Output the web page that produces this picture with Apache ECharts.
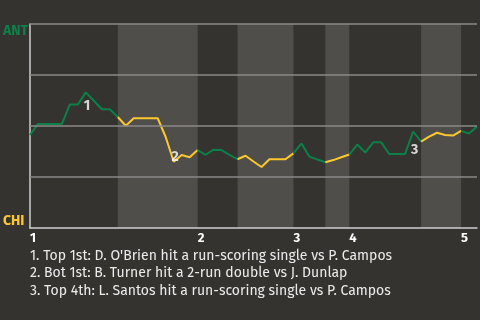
<!DOCTYPE html>
<html><head><meta charset="utf-8">
<script src="https://cdn.jsdelivr.net/npm/echarts@6/dist/echarts.min.js"></script>
<style>html,body{margin:0;padding:0;background:#353330;}#c{width:480px;height:320px;}</style>
</head><body><div id="c"></div>
<script>
// Win probability (ANT side, %) after each plate appearance
const winProb = [45.6,51.0,51.0,51.0,51.0,60.6,60.6,66.5,62.4,58.2,58.2,54.4,50.1,53.8,53.8,53.8,53.8,44.6,32.5,35.8,34.7,38.2,35.9,38.4,38.2,35.9,33.7,35.4,32.6,29.9,33.7,33.7,33.7,36.6,41.4,35.0,33.6,32.2,33.3,34.7,36.0,40.9,37.0,42.0,42.0,36.3,36.3,36.3,47.3,42.3,44.8,46.7,45.6,45.3,47.6,46.3,49.8];
// Half-inning starting plate-appearance index (top 1st, bot 1st, top 2nd, ...)
const halfStarts = [0, 11, 21, 26, 33, 37, 40, 49, 54];
const inningLabels = ['1','2','3','4','5'];
const inningStarts = [0, 21, 33, 40, 54];
const gridValues = [25, 50, 75, 100];
const teamTop = 'ANT', teamBottom = 'CHI';
const annIdx = [7, 18, 48];
const annLabels = ['1','2','3'];
const notes = [
  "1. Top 1st: D. O'Brien hit a run-scoring single vs P. Campos",
  "2. Bot 1st: B. Turner hit a 2-run double vs J. Dunlap",
  "3. Top 4th: L. Santos hit a run-scoring single vs P. Campos"
];

const GREEN = '#0b8048', YELLOW = '#fdc82f', BAND = '#504e4b';
const FONT = 'Fira Sans, Noto Sans, sans-serif';
const lastIdx = winProb.length - 1;
const series = [];
const bands = [];
for (let h = 0; h < halfStarts.length; h++) {
  const s = halfStarts[h], e = h + 1 < halfStarts.length ? halfStarts[h+1] : lastIdx;
  const data = [];
  for (let i = s; i <= e; i++) data.push([i, winProb[i]]);
  const isTop = h % 2 === 0;
  if (!isTop) bands.push([{xAxis: s}, {xAxis: e}]);
  series.push({type:'line', data, showSymbol:false, symbol:'none', silent:true,
    lineStyle:{color: isTop ? GREEN : YELLOW, width:2}, z: 4});
}
series.push({type:'line', data:[], z:1, silent:true,
  markArea:{silent:true, itemStyle:{color:BAND}, data:bands}});
series.push({type:'line', data:[], z:2, silent:true,
  markLine:{silent:true, symbol:['none','none'], label:{show:false},
    lineStyle:{color:'#8a8a88', width:1.5, type:'solid'},
    data: gridValues.map(v=>({yAxis:v}))}});
const annOffsets = [[1,14],[1.5,-5],[1.5,18.5]];
series.push({type:'scatter', symbolSize:0, silent:true, z:5,
  data: annIdx.map((i,k)=>({value:[i, winProb[i]], label:{show:true, formatter:annLabels[k], position:'inside', offset:annOffsets[k], color:'#ffffff', fontWeight:'bold', fontSize:14, fontFamily:FONT}}))});

const chart = echarts.init(document.getElementById('c'));
chart.setOption({
  backgroundColor:'#353330',
  animation:false,
  grid:{left:29, right:3, top:24, bottom:92},
  xAxis:{type:'value', min:0, max:lastIdx, splitLine:{show:false}, z:3,
    axisLine:{show:true, lineStyle:{color:'#cfcfcf', width:1.5}},
    axisTick:{show:false},
    axisLabel:{customValues: inningStarts, formatter:(v)=>inningLabels[inningStarts.indexOf(v)] || '',
      align:'left', color:'#ffffff', fontWeight:'bold', fontSize:13, fontFamily:FONT, margin:4, showMinLabel:true, showMaxLabel:true}},
  yAxis:{type:'value', min:0, max:100, interval:25, z:3,
    axisLine:{show:true, lineStyle:{color:'#cfcfcf', width:1.5}},
    axisTick:{show:false},
    splitLine:{show:false},
    axisLabel:{margin:27, align:'left', fontFamily:FONT, fontWeight:'bold', fontSize:14,
      formatter:(v)=> v===100 ? '{t|'+teamTop+'}' : (v===0 ? '{b|'+teamBottom+'}' : ''),
      rich:{t:{color:GREEN, fontWeight:'bold', fontSize:14, fontFamily:FONT, padding:[14,0,0,0]},
            b:{color:YELLOW, fontWeight:'bold', fontSize:14, fontFamily:FONT, padding:[0,0,14,0]}}}},
  series: series,
  graphic:[{type:'text', left:30, top:247, silent:true,
    style:{text: notes.join('\n'), fill:'#ececec', font:'14px '+FONT, lineHeight:17.5}}]
});
</script></body></html>
